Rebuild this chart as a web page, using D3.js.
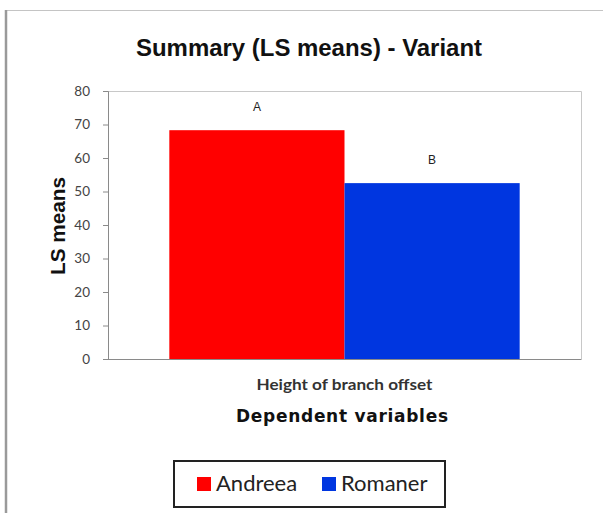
<!DOCTYPE html>
<html><head><meta charset="utf-8">
<script src="https://cdn.jsdelivr.net/npm/d3@7"></script>
<style>body{margin:0;background:#fff;}svg{display:block;}</style>
</head><body>
<svg id="c" width="603" height="513"></svg>
<script>
const categories = ["Height of branch offset"];
const seriesNames = ["Andreea", "Romaner"];
const seriesValues = [68.3, 52.5];
const seriesColors = ["#ff0000", "#0036e0"];
const groupLetters = ["A", "B"];
const yTicks = [0, 10, 20, 30, 40, 50, 60, 70, 80];

const svg = d3.select("#c");
const m = {left:108, top:91, right:581, bottom:359};

// outer frame
svg.append("line").attr("x1",5).attr("x2",603).attr("y1",10.5).attr("y2",10.5).attr("stroke","#c4c4c4").attr("stroke-width",1);
svg.append("line").attr("x1",6).attr("x2",6).attr("y1",10).attr("y2",513).attr("stroke","#9a9a9a").attr("stroke-width",2.5);

const y = d3.scaleLinear().domain([0,80]).range([m.bottom, m.top]);
const pi = 0.35/1.35;
const x0 = d3.scaleBand().domain(categories).range([m.left, m.right]).paddingInner(pi).paddingOuter(pi/2);
const x1 = d3.scaleBand().domain(seriesNames).range([0, x0.bandwidth()]);

// plot border (top/right)
svg.append("path").attr("d",`M${m.left},${m.top+0.5}H${m.right+0.5}V${m.bottom}`).attr("fill","none").attr("stroke","#c8c8c8");

// bars
const g = svg.append("g");
seriesNames.forEach((s,i)=>{
  const bx = x0(categories[0]) + x1(s);
  g.append("rect").attr("x",bx).attr("y",y(seriesValues[i])).attr("width",x1.bandwidth()).attr("height",y(0)-y(seriesValues[i])).attr("fill",seriesColors[i]);
  g.append("text").attr("x",bx + x1.bandwidth()/2).attr("y",y(seriesValues[i])-19).attr("text-anchor","middle")
   .attr("font-family","Liberation Sans, Arial").attr("font-size",12).attr("fill","#222").text(groupLetters[i]);
});

// y axis
const ya = svg.append("g").attr("transform",`translate(${m.left},0)`).call(d3.axisLeft(y).tickValues(yTicks).tickSize(5).tickPadding(13));
ya.select(".domain").attr("stroke","#8a8a8a");
ya.selectAll(".tick line").attr("stroke","#8a8a8a");
ya.selectAll(".tick text").attr("font-family","Lato, Open Sans, sans-serif").attr("font-size",13.5).attr("fill","#444");

// x axis
const xa = svg.append("g").attr("transform",`translate(0,${m.bottom})`).call(d3.axisBottom(x0).tickSize(0).tickPadding(0));
xa.select(".domain").attr("stroke","#8a8a8a").attr("d",`M${m.left},0.5H${m.right+0.5}`);
xa.selectAll(".tick").attr("transform",`translate(${(m.left+m.right)/2},0)`);
xa.selectAll(".tick text").attr("y",31).attr("dy",null).attr("font-family","Lato, Open Sans, sans-serif").attr("font-size",15).attr("font-weight","bold").attr("fill","#333")
  .attr("textLength",176).attr("lengthAdjust","spacingAndGlyphs");

// title
svg.append("text").attr("x",309).attr("y",56).attr("text-anchor","middle").attr("font-family","Liberation Sans, Arial").attr("font-weight","bold").attr("font-size",24).attr("fill","#111")
  .attr("textLength",346).attr("lengthAdjust","spacingAndGlyphs").text("Summary (LS means) - Variant");

// axis titles
svg.append("text").attr("transform",`translate(65,${(m.top+m.bottom)/2+1}) rotate(-90)`).attr("text-anchor","middle").attr("font-family","Liberation Sans, Arial").attr("font-weight","bold").attr("font-size",21).attr("fill","#111")
  .attr("textLength",98).attr("lengthAdjust","spacingAndGlyphs").text("LS means");
svg.append("text").attr("x",342).attr("y",422).attr("text-anchor","middle").attr("font-family","DejaVu Sans, Verdana").attr("font-weight","bold").attr("font-size",17).attr("fill","#111")
  .attr("textLength",212).attr("lengthAdjust","spacing").text("Dependent variables");

// legend
const lg = svg.append("g");
lg.append("rect").attr("x",174).attr("y",461).attr("width",271).attr("height",46).attr("fill","#fff").attr("stroke","#222").attr("stroke-width",2);
const legX = [197, 322];
seriesNames.forEach((s,i)=>{
  lg.append("rect").attr("x",legX[i]).attr("y",477).attr("width",14).attr("height",14).attr("fill",seriesColors[i]);
  lg.append("text").attr("x",legX[i]+19).attr("y",491).attr("font-family","Lato, Open Sans, sans-serif").attr("font-size",22).attr("fill","#222").text(s);
});
</script>
</body></html>
